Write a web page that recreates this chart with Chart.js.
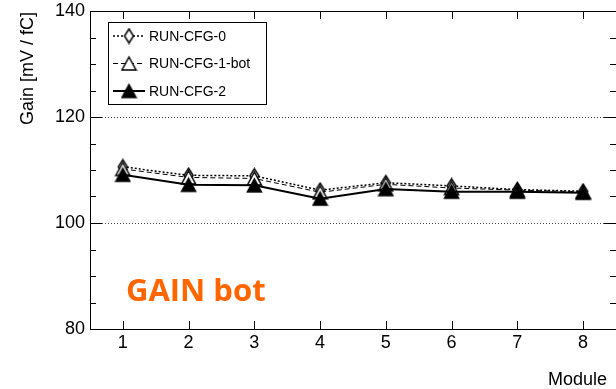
<!DOCTYPE html>
<html>
<head>
<meta charset="utf-8">
<script src="https://cdn.jsdelivr.net/npm/chart.js@4.4.1/dist/chart.umd.min.js"></script>
<style>
  html, body { margin: 0; padding: 0; background: #fff; }
  #wrap { position: relative; width: 616px; height: 389px; }
  canvas { display: block; }
  #panel-label {
    position: absolute; left: 126px; top: 274px; margin: 0;
    font: bold 31px/31px "Open Sans", sans-serif; color: #ff6600;
    white-space: nowrap;
  }
</style>
</head>
<body>
<div id="wrap">
  <canvas id="gain" width="616" height="389"></canvas>
  <div id="panel-label">GAIN bot</div>
</div>
<script>
// module numbers and measured gain per configuration
const modules = ['1', '2', '3', '4', '5', '6', '7', '8'];
const gainCfg0 = [110.6, 109.0, 108.9, 106.2, 107.6, 107.0, 106.3, 106.0];
const gainCfg1Bot = [110.2, 108.6, 108.4, 105.8, 107.3, 106.6, 106.2, 105.9];
const gainCfg2 = [109.1, 107.2, 107.1, 104.6, 106.4, 105.9, 105.9, 105.7];
const yMin = 80, yMax = 140, yStep = 20, yMinorStep = 5;

const FONT = '"Liberation Sans", Arial, Helvetica, sans-serif';

// ROOT-like marker glyphs
function makeMarker(kind) {
  const c = document.createElement('canvas');
  c.width = 17; c.height = 17;
  const g = c.getContext('2d');
  g.lineWidth = 1.5;
  g.strokeStyle = '#000';
  g.beginPath();
  if (kind === 'diamond') {
    g.moveTo(8.5, 1.5); g.lineTo(13, 8.5); g.lineTo(8.5, 15.5); g.lineTo(4, 8.5);
  } else {
    g.moveTo(8.5, 2); g.lineTo(15.5, 15); g.lineTo(1.5, 15);
  }
  g.closePath();
  g.fillStyle = kind === 'fill' ? '#000' : '#fff';
  g.fill();
  g.stroke();
  return c;
}
const mkDiamond = makeMarker('diamond');
const mkOpenTri = makeMarker('open');
const mkFillTri = makeMarker('fill');

const series = [
  { label: 'RUN-CFG-0', data: gainCfg0, marker: mkDiamond, dash: [2, 2], width: 1.5, order: 2 },
  { label: 'RUN-CFG-1-bot', data: gainCfg1Bot, marker: mkOpenTri, dash: [5, 3], width: 1, order: 1 },
  { label: 'RUN-CFG-2', data: gainCfg2, marker: mkFillTri, dash: [], width: 2, order: 0 }
];

// no extra room for half-labels: the frame sits where the padding puts it
function fixScale(s, w, h) {
  if (w) s.width = w;
  if (h) s.height = h;
  s.paddingTop = 0; s.paddingBottom = 0; s.paddingLeft = 0; s.paddingRight = 0;
}

// frame, inner ticks, dotted grid, titles and legend
const decorations = {
  id: 'decorations',
  beforeDatasetsDraw(chart) {
    const { ctx, chartArea: a, scales: { y } } = chart;
    ctx.save();
    ctx.strokeStyle = '#444';
    ctx.lineWidth = 1;
    ctx.setLineDash([1, 2]);
    for (let v = yMin + yStep; v < yMax; v += yStep) {
      const py = Math.round(y.getPixelForValue(v)) + 0.5;
      ctx.beginPath(); ctx.moveTo(a.left, py); ctx.lineTo(a.right, py); ctx.stroke();
    }
    ctx.restore();
  },
  afterDatasetsDraw(chart) {
    const { ctx, chartArea: a, scales: { x, y } } = chart;
    ctx.save();
    ctx.strokeStyle = '#000';
    ctx.lineWidth = 1;
    ctx.setLineDash([]);
    ctx.strokeRect(a.left + 0.5, a.top + 0.5, a.right - a.left, a.bottom - a.top);

    // y ticks on both sides
    for (let v = yMin; v <= yMax; v += yMinorStep) {
      const py = Math.round(y.getPixelForValue(v)) + 0.5;
      const len = (v - yMin) % yStep === 0 ? 12 : 6;
      ctx.beginPath();
      ctx.moveTo(a.left, py); ctx.lineTo(a.left + len, py);
      ctx.moveTo(a.right, py); ctx.lineTo(a.right - len, py);
      ctx.stroke();
    }
    // x ticks top and bottom
    modules.forEach((m, i) => {
      const px = Math.round(x.getPixelForValue(i)) + 0.5;
      ctx.beginPath();
      ctx.moveTo(px, a.bottom); ctx.lineTo(px, a.bottom - 8);
      ctx.moveTo(px, a.top); ctx.lineTo(px, a.top + 8);
      ctx.stroke();
    });

    // axis titles
    ctx.fillStyle = '#000';
    ctx.font = '18px ' + FONT;
    ctx.textBaseline = 'alphabetic';
    ctx.textAlign = 'left';
    ctx.fillText('Module', 548, 385);
    ctx.save();
    ctx.translate(33, 12);
    ctx.rotate(-Math.PI / 2);
    ctx.textAlign = 'right';
    ctx.fillText('Gain [mV / fC]', 0, 0);
    ctx.restore();

    // legend box
    ctx.fillStyle = '#fff';
    ctx.fillRect(108, 22, 159, 83);
    ctx.strokeRect(108.5, 22.5, 158, 82);
    series.forEach((s, i) => {
      const cy = 36 + i * 27.5;
      ctx.beginPath();
      ctx.setLineDash(s.dash);
      ctx.lineWidth = s.width;
      ctx.moveTo(113, cy); ctx.lineTo(145, cy);
      ctx.stroke();
      ctx.setLineDash([]);
      ctx.lineWidth = 1;
      ctx.drawImage(s.marker, 129 - 8.5, cy - 8.5);
      ctx.fillStyle = '#000';
      ctx.font = '14px ' + FONT;
      ctx.textBaseline = 'middle';
      ctx.textAlign = 'left';
      ctx.fillText(s.label, 149, cy + 1);
    });
    ctx.restore();
  }
};

new Chart(document.getElementById('gain'), {
  type: 'line',
  data: {
    labels: modules,
    datasets: series.map(s => ({
      label: s.label,
      data: s.data,
      borderColor: '#000',
      borderWidth: s.width,
      borderDash: s.dash,
      pointStyle: s.marker,
      pointRadius: 8,
      tension: 0,
      order: s.order
    }))
  },
  options: {
    responsive: false,
    animation: false,
    layout: { autoPadding: false, padding: { top: 11, right: 0, left: 0, bottom: 0 } },
    plugins: { legend: { display: false }, tooltip: { enabled: false } },
    scales: {
      x: {
        type: 'category',
        offset: true,
        grid: { display: false, drawTicks: false },
        border: { display: false },
        ticks: { color: '#000', font: { family: FONT, size: 18 }, padding: 3, maxRotation: 0 },
        afterFit: s => fixScale(s, 0, 60)
      },
      y: {
        min: yMin,
        max: yMax,
        grid: { display: false, drawTicks: false },
        border: { display: false },
        ticks: { stepSize: yStep, color: '#000', font: { family: FONT, size: 18 }, padding: 5 },
        afterFit: s => fixScale(s, 90, 0)
      }
    }
  },
  plugins: [decorations]
});
</script>
</body>
</html>
